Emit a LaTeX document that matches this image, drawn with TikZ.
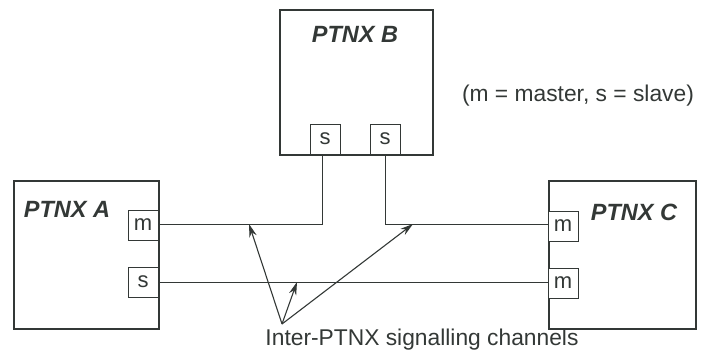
\documentclass[tikz,border=0pt]{standalone}
\usepackage{fontspec}
\setmainfont{Liberation Sans}
\usetikzlibrary{arrows.meta}
\definecolor{ink}{HTML}{333836}
\tikzset{
  bigbox/.style={draw=ink, line width=2.4pt, fill=white, anchor=north west, inner sep=0pt},
  port/.style={draw=ink, line width=0.9pt, fill=white, minimum width=30pt, minimum height=30pt, inner sep=0pt, font=\fontsize{22}{23}\selectfont, text=ink},
  title/.style={font=\fontsize{23.5}{24}\selectfont\bfseries\itshape, text=ink},
  wire/.style={draw=ink, line width=1pt},
  pointer/.style={draw=ink, line width=1.1pt, -{Stealth[length=13pt,width=7.5pt]}},
  lbl/.style={font=\fontsize{22.8}{24}\selectfont, text=ink}
}
\begin{document}
\begin{tikzpicture}[x=1pt,y=-1pt]
\useasboundingbox (0,0) rectangle (705,353);
% big boxes
\node[bigbox, minimum width=145pt, minimum height=148pt] (A) at (13,180) {};
\node[bigbox, minimum width=153pt, minimum height=145pt] (B) at (279,9) {};
\node[bigbox, minimum width=147pt, minimum height=148pt] (C) at (548,180) {};
% titles
\node[title] (tA) at (67,209) {PTNX A};
\node[title] (tB) at (355,34) {PTNX B};
\node[title] (tC) at (634,212) {PTNX C};
% ports
\node[port] (Am) at (143,225) {m};
\node[port] (As) at (143,282) {s};
\node[port] (Bs1) at (325,139) {s};
\node[port] (Bs2) at (385,139) {s};
\node[port] (Cm1) at (563,226) {m};
\node[port] (Cm2) at (563,283) {m};
% wires
\coordinate (j1) at (322,224);
\coordinate (j2) at (385,224);
\draw[wire] (Am.east |- j1) -- (j1) -- (j1 |- Bs1.south);
\draw[wire] (Bs2.south) -- (j2) -- (Cm1.west |- j2);
\draw[wire] (As.east) -- (Cm2.west |- As.east);
% legend
\node[lbl] (legend) at (578,96) {(m = master, s = slave)};
% pointer label
\node[lbl, anchor=north] (chan) at (422,325) {Inter-PTNX signalling channels};
\coordinate (apex) at (282,324);
\coordinate (t1) at (249,224);
\coordinate (t2) at (297,282);
\coordinate (t3) at (413,224);
\draw[pointer] (apex) -- (t1);
\draw[pointer] (apex) -- (t2);
\draw[pointer] (apex) -- (t3);
\end{tikzpicture}
\end{document}
